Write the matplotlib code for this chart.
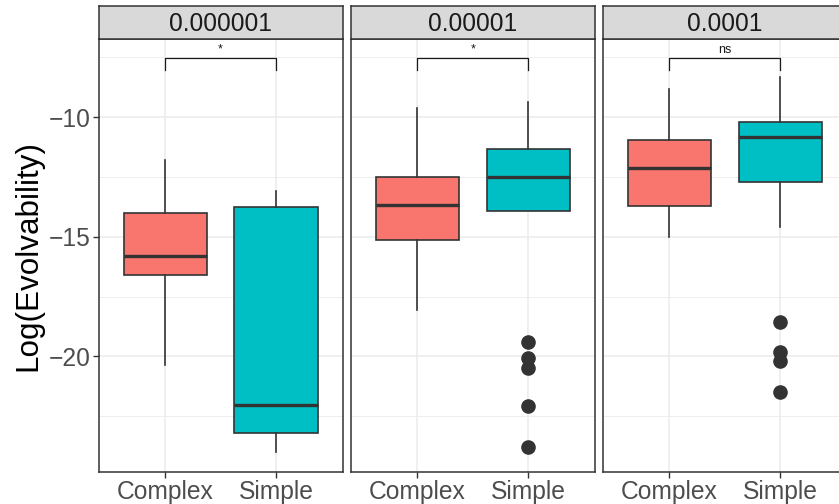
import matplotlib
matplotlib.use("Agg")
import matplotlib.pyplot as plt

plt.rcParams['font.family'] = ['Liberation Sans', 'DejaVu Sans']

facets = ["0.000001", "0.00001", "0.0001"]
categories = ["Complex", "Simple"]
colors = ["#F8766D", "#00BFC4"]

# per facet: (whislo, q1, med, q3, whishi, outliers)
complex_stats = [
    (-20.36, -16.61, -15.80, -14.02, -11.80, []),
    (-18.06, -15.13, -13.67, -12.49, -9.60, []),
    (-15.00, -13.70, -12.13, -10.95, -8.83, []),
]
simple_stats = [
    (-23.99, -23.20, -22.04, -13.74, -13.08, []),
    (-13.91, -13.91, -12.50, -11.31, -9.35, [-19.41, -20.07, -20.48, -22.07, -23.81]),
    (-14.58, -12.71, -10.82, -10.18, -8.33, [-18.55, -19.83, -20.20, -21.48]),
]
sig_labels = ["*", "*", "ns"]
sig_y = -7.54
sig_tip = -8.02
yticks = [-10, -15, -20]
ytick_labels = ["\u221210", "\u221215", "\u221220"]
yminor = [-7.5, -12.5, -17.5, -22.5]
ylim = (-24.84, -6.74)

W, H = 839, 504
fig = plt.figure(figsize=(W / 100, H / 100), dpi=100)

panel_lefts = [98.7, 350.9, 603.0]
panel_w = 243.8
panel_top = 39.3
panel_bot = 472.0
strip_top = 6.0

edge = "#333333"
for i, f in enumerate(facets):
    l = panel_lefts[i]
    ax = fig.add_axes([l / W, 1 - panel_bot / H, panel_w / W, (panel_bot - panel_top) / H])
    sax = fig.add_axes([l / W, 1 - panel_top / H, panel_w / W, (panel_top - strip_top) / H])
    sax.set_xticks([]); sax.set_yticks([])
    sax.set_facecolor("#D9D9D9")
    for s in sax.spines.values():
        s.set_color(edge); s.set_linewidth(1.1)
    sax.text(0.5, 0.45, f, ha='center', va='center', fontsize=17.7, color="#1A1A1A",
             transform=sax.transAxes)

    stats = []
    for st, lab in zip([complex_stats[i], simple_stats[i]], categories):
        lo, q1, med, q3, hi, fl = st
        stats.append(dict(whislo=lo, q1=q1, med=med, q3=q3, whishi=hi, fliers=fl, label=lab))
    bp = ax.bxp(stats, positions=[1, 2], widths=0.75, patch_artist=True, showcaps=False,
                boxprops=dict(edgecolor=edge, linewidth=1.2),
                medianprops=dict(color=edge, linewidth=2.4),
                whiskerprops=dict(color=edge, linewidth=1.2),
                flierprops=dict(marker='o', markerfacecolor=edge, markeredgecolor=edge,
                                markersize=9.5, linestyle='none'),
                zorder=3)
    for patch, c in zip(bp['boxes'], colors):
        patch.set_facecolor(c)

    ax.set_xlim(0.4, 2.6)
    ax.set_ylim(*ylim)
    ax.set_facecolor("white")
    ax.set_yticks(yticks)
    ax.set_yticks(yminor, minor=True)
    ax.set_xticks([1, 2])
    ax.set_xticklabels(categories)
    ax.grid(True, which='major', color="#EBEBEB", linewidth=1.1, zorder=0)
    ax.grid(True, which='minor', axis='y', color="#EBEBEB", linewidth=0.6, zorder=0)
    ax.set_axisbelow(True)
    for s in ax.spines.values():
        s.set_color(edge); s.set_linewidth(1.1)
    ax.tick_params(axis='x', which='major', length=4, width=1.0, color=edge,
                   labelsize=17.7, labelcolor="#4D4D4D", pad=1.5)
    ax.tick_params(axis='y', which='minor', length=0)
    if i == 0:
        ax.tick_params(axis='y', which='major', length=4, width=1.0, color=edge,
                       labelsize=17.7, labelcolor="#4D4D4D", pad=2)
        ax.set_yticklabels(ytick_labels)
        ax.set_ylabel("Log(Evolvability)", fontsize=22.6, color="black", labelpad=3.5)
    else:
        ax.tick_params(axis='y', which='major', length=0, labelleft=False)

    # significance bracket
    ax.plot([1, 1, 2, 2], [sig_tip, sig_y, sig_y, sig_tip], color="#1A1A1A", linewidth=0.9, zorder=4)
    ax.text(1.5, sig_y + 0.12, sig_labels[i], ha='center', va='bottom', fontsize=9,
            color="#1A1A1A", zorder=4)

fig.savefig("out.png", dpi=100)
